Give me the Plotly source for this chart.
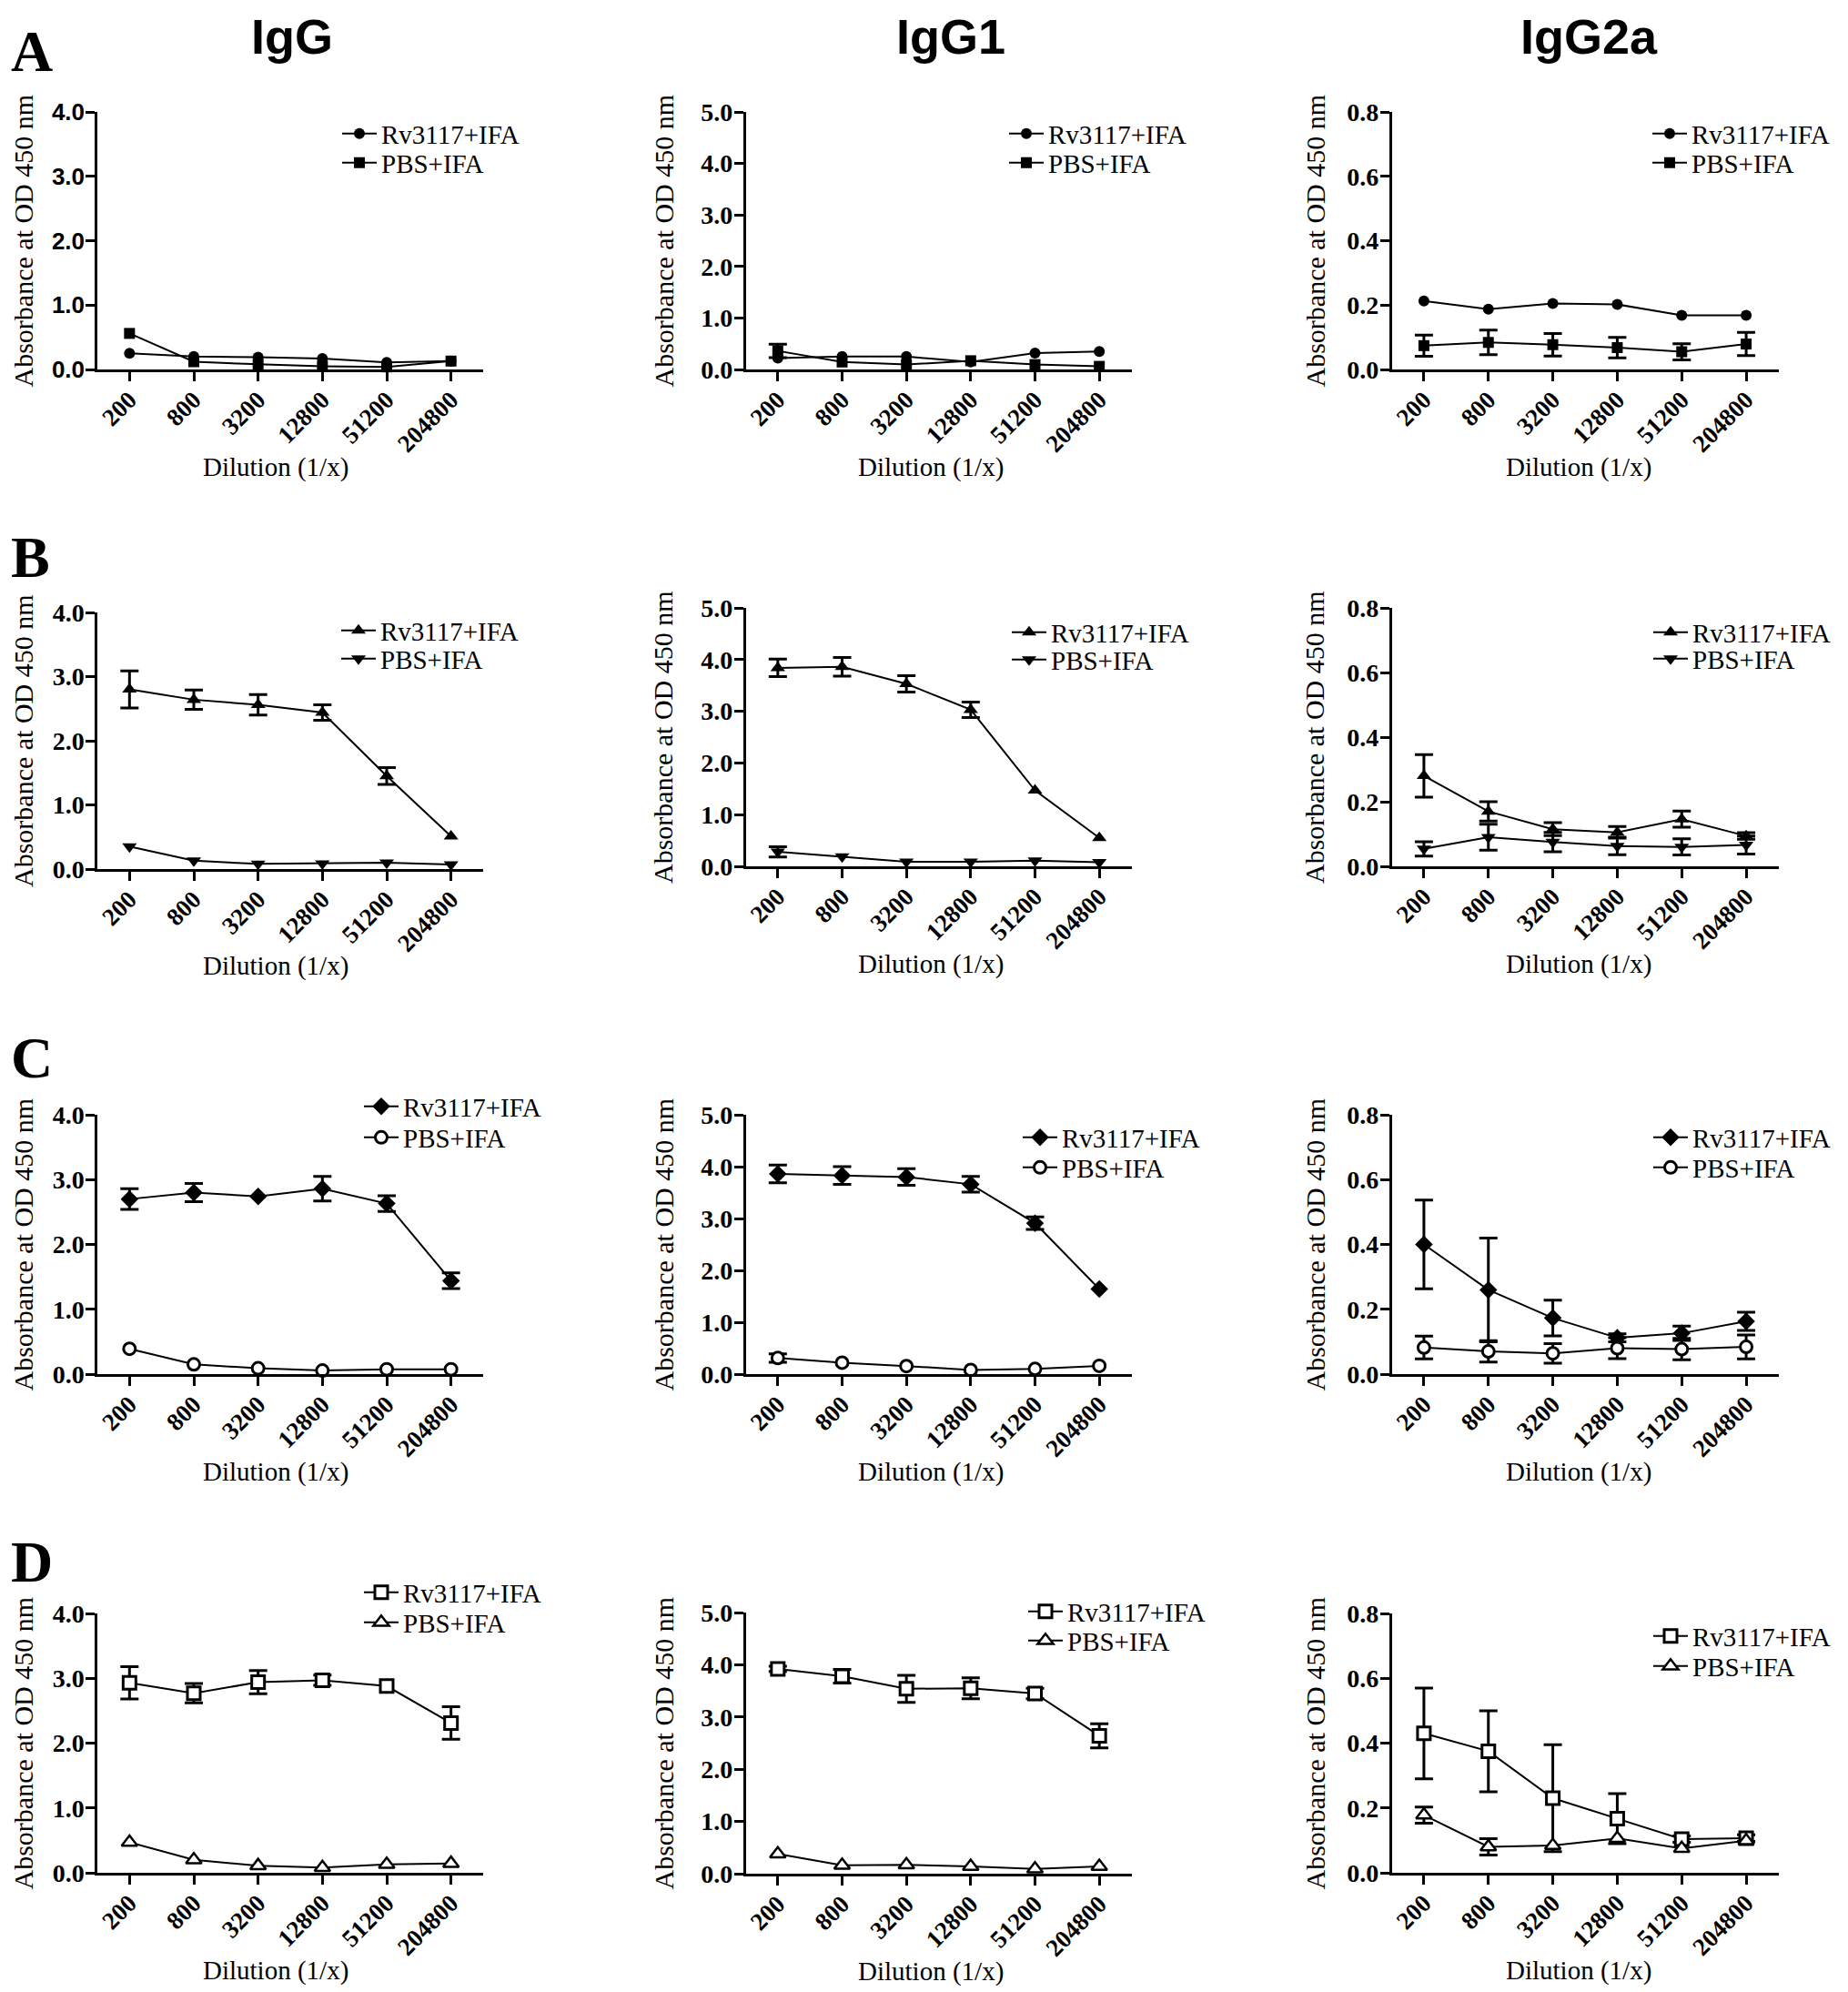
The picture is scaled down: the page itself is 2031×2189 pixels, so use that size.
import plotly.graph_objects as go

# ---------------- data ----------------
dilutions = ["200", "800", "3200", "12800", "51200", "204800"]
series_names = ["Rv3117+IFA", "PBS+IFA"]
isotypes = ["IgG", "IgG1", "IgG2a"]
panel_letters = ["A", "B", "C", "D"]
y_max = [4.0, 5.0, 0.8]
y_dtick = [1.0, 1.0, 0.2]

# Row A
A_igg_rv = [0.25, 0.20, 0.19, 0.17, 0.11, 0.13]
A_igg_rv_err = [0, 0, 0, 0, 0, 0]
A_igg_pbs = [0.56, 0.12, 0.08, 0.05, 0.04, 0.13]
A_igg_pbs_err = [0, 0, 0, 0, 0, 0]
A_igg1_rv = [0.22, 0.25, 0.25, 0.145, 0.32, 0.35]
A_igg1_rv_err = [0, 0, 0, 0, 0, 0]
A_igg1_pbs = [0.36, 0.145, 0.095, 0.17, 0.095, 0.06]
A_igg1_pbs_err = [0.13, 0, 0, 0, 0, 0]
A_igg2a_rv = [0.213, 0.187, 0.205, 0.202, 0.168, 0.168]
A_igg2a_rv_err = [0, 0, 0, 0, 0, 0]
A_igg2a_pbs = [0.074, 0.084, 0.077, 0.068, 0.055, 0.079]
A_igg2a_pbs_err = [0.033, 0.038, 0.035, 0.032, 0.025, 0.036]

# Row B
B_igg_rv = [2.80, 2.64, 2.56, 2.44, 1.45, 0.51]
B_igg_rv_err = [0.29, 0.15, 0.16, 0.12, 0.13, 0]
B_igg_pbs = [0.35, 0.13, 0.08, 0.085, 0.10, 0.07]
B_igg_pbs_err = [0, 0, 0, 0, 0, 0]
B_igg1_rv = [3.84, 3.86, 3.53, 3.03, 1.47, 0.55]
B_igg1_rv_err = [0.17, 0.18, 0.16, 0.15, 0, 0]
B_igg1_pbs = [0.28, 0.19, 0.09, 0.09, 0.11, 0.08]
B_igg1_pbs_err = [0.10, 0, 0, 0, 0, 0]
B_igg2a_rv = [0.28, 0.17, 0.115, 0.105, 0.146, 0.094]
B_igg2a_rv_err = [0.066, 0.03, 0.02, 0.018, 0.025, 0.01]
B_igg2a_pbs = [0.054, 0.09, 0.075, 0.063, 0.06, 0.066]
B_igg2a_pbs_err = [0.022, 0.04, 0.03, 0.027, 0.025, 0.028]

# Row C
C_igg_rv = [2.70, 2.80, 2.74, 2.86, 2.63, 1.44]
C_igg_rv_err = [0.16, 0.14, 0, 0.19, 0.12, 0.12]
C_igg_pbs = [0.39, 0.15, 0.09, 0.055, 0.075, 0.075]
C_igg_pbs_err = [0, 0, 0, 0, 0, 0]
C_igg1_rv = [3.86, 3.83, 3.80, 3.66, 2.91, 1.64]
C_igg1_rv_err = [0.17, 0.17, 0.16, 0.15, 0.12, 0]
C_igg1_pbs = [0.31, 0.22, 0.155, 0.08, 0.10, 0.16]
C_igg1_pbs_err = [0.08, 0, 0, 0, 0, 0]
C_igg2a_rv = [0.40, 0.26, 0.173, 0.112, 0.126, 0.163]
C_igg2a_rv_err = [0.137, 0.16, 0.055, 0.012, 0.022, 0.028]
C_igg2a_pbs = [0.082, 0.070, 0.064, 0.080, 0.077, 0.084]
C_igg2a_pbs_err = [0.035, 0.033, 0.03, 0.032, 0.033, 0.037]

# Row D
D_igg_rv = [2.93, 2.77, 2.94, 2.97, 2.88, 2.31]
D_igg_rv_err = [0.25, 0.15, 0.18, 0.08, 0, 0.25]
D_igg_pbs = [0.47, 0.20, 0.11, 0.08, 0.13, 0.145]
D_igg_pbs_err = [0, 0, 0, 0, 0, 0]
D_igg1_rv = [3.92, 3.78, 3.54, 3.55, 3.45, 2.64]
D_igg1_rv_err = [0.05, 0.13, 0.26, 0.20, 0.10, 0.23]
D_igg1_pbs = [0.38, 0.16, 0.17, 0.14, 0.09, 0.14]
D_igg1_pbs_err = [0, 0, 0, 0, 0, 0]
D_igg2a_rv = [0.43, 0.375, 0.23, 0.167, 0.104, 0.107]
D_igg2a_rv_err = [0.14, 0.125, 0.165, 0.077, 0.01, 0.01]
D_igg2a_pbs = [0.178, 0.08, 0.084, 0.106, 0.075, 0.099]
D_igg2a_pbs_err = [0.025, 0.025, 0, 0, 0, 0]

rows_data = [
    [(A_igg_rv, A_igg_rv_err, A_igg_pbs, A_igg_pbs_err),
     (A_igg1_rv, A_igg1_rv_err, A_igg1_pbs, A_igg1_pbs_err),
     (A_igg2a_rv, A_igg2a_rv_err, A_igg2a_pbs, A_igg2a_pbs_err)],
    [(B_igg_rv, B_igg_rv_err, B_igg_pbs, B_igg_pbs_err),
     (B_igg1_rv, B_igg1_rv_err, B_igg1_pbs, B_igg1_pbs_err),
     (B_igg2a_rv, B_igg2a_rv_err, B_igg2a_pbs, B_igg2a_pbs_err)],
    [(C_igg_rv, C_igg_rv_err, C_igg_pbs, C_igg_pbs_err),
     (C_igg1_rv, C_igg1_rv_err, C_igg1_pbs, C_igg1_pbs_err),
     (C_igg2a_rv, C_igg2a_rv_err, C_igg2a_pbs, C_igg2a_pbs_err)],
    [(D_igg_rv, D_igg_rv_err, D_igg_pbs, D_igg_pbs_err),
     (D_igg1_rv, D_igg1_rv_err, D_igg1_pbs, D_igg1_pbs_err),
     (D_igg2a_rv, D_igg2a_rv_err, D_igg2a_pbs, D_igg2a_pbs_err)],
]

# ---------------- styles / layout geometry (page px) ----------------
W, H = 2031, 2189
BODY = 8  # default page margin around the plot div
SERIF = "Liberation Serif"
SANS = "Liberation Sans"

# marker styles per row: (symbol, fill, size, linewidth) for Rv and PBS
row_markers = [
    [("circle", "black", 12, 0), ("square", "black", 12, 0)],
    [("triangle-up", "black", 14, 0), ("triangle-down", "black", 14, 0)],
    [("diamond", "black", 15, 0), ("circle", "white", 13, 3)],
    [("square", "white", 14, 3), ("triangle-up", "white", 15, 2.5)],
]

col_x = [(107, 531), (819.5, 1243.5), (1529.5, 1954.5)]
row_y = [
    [(123, 406), (123, 406), (123, 406)],
    [(673, 955), (668, 952), (668, 952)],
    [(1225, 1510), (1225, 1510), (1225, 1510)],
    [(1773, 2058), (1772, 2059), (1773, 2058)],
]
# legend: (line start x, row1 center y, row2 center y)
legend_pos = [
    [(377, 147, 179), (1110, 147, 179), (1817, 147, 179)],
    [(376, 693, 724), (1113, 695, 725), (1818, 695, 724)],
    [(401, 1216, 1250), (1125, 1250, 1283), (1818, 1250, 1283)],
    [(401, 1750, 1783), (1131, 1771, 1803), (1818, 1798, 1831)],
]
ytitle_x = [25, 729, 1445]
xtitle_x = [303, 1023, 1735]
title_x = [321, 1045, 1746]
letter_pos = [(35, 57), (33, 612), (35, 1162), (35, 1716)]


def px(x):
    return (x - BODY) / W


def py(y):
    return 1 - (y - BODY) / H


fig = go.Figure()
layout = dict(
    template="none",
    width=W, height=H,
    margin=dict(l=0, r=0, t=0, b=0, pad=0, autoexpand=False),
    paper_bgcolor="white", plot_bgcolor="white",
    showlegend=True,
)
annotations = []
leg_n = 0

for r in range(4):
    for c in range(3):
        idx = r * 3 + c + 1
        sfx = "" if idx == 1 else str(idx)
        xa, ya = "x" + sfx, "y" + sfx
        x0, x1 = col_x[c]
        yt, yb = row_y[r][c]
        sans_ticks = (r == 0 and c == 0)
        tickfont_y = dict(family=SANS if sans_ticks else SERIF,
                          size=26 if sans_ticks else 28,
                          color="black", weight="bold")
        layout["xaxis" + sfx] = dict(
            domain=[px(x0), px(x1)], anchor=ya, type="category",
            categoryorder="array", categoryarray=dilutions,
            range=[-0.5, 5.5], showline=True, linecolor="black", linewidth=2.5,
            ticks="outside", ticklen=10, tickwidth=2.5, tickcolor="black",
            tickangle=-45, showgrid=False, zeroline=False, fixedrange=True,
            automargin=False, ticklabelstandoff=-6,
            tickfont=dict(family=SERIF, size=27, color="black", weight="bold"),
        )
        layout["yaxis" + sfx] = dict(
            domain=[py(yb), py(yt)], anchor=xa,
            range=[0, y_max[c]], dtick=y_dtick[c], tick0=0, tickformat=".1f",
            showline=True, linecolor="black", linewidth=2.5,
            ticks="outside", ticklen=10, tickwidth=2.5, tickcolor="black",
            showgrid=False, zeroline=False, fixedrange=True,
            automargin=False, ticklabelstandoff=-4,
            tickfont=tickfont_y,
        )
        rv, rv_err, pbs, pbs_err = rows_data[r][c]
        lx, ly1, ly2 = legend_pos[r][c]
        for s, (vals, errs) in enumerate([(rv, rv_err), (pbs, pbs_err)]):
            sym, fill, size, lw = row_markers[r][s]
            # error bars (only where an error exists), drawn underneath
            ex = [d for d, e in zip(dilutions, errs) if e > 0]
            ey = [v for v, e in zip(vals, errs) if e > 0]
            ee = [e for e in errs if e > 0]
            if ee:
                fig.add_trace(go.Scatter(
                    x=ex, y=ey, xaxis=xa, yaxis=ya, mode="markers",
                    marker=dict(size=1, color="rgba(0,0,0,0)"),
                    error_y=dict(type="data", array=ee, visible=True,
                                 color="black", thickness=3, width=10),
                    showlegend=False, cliponaxis=False, hoverinfo="skip",
                ))
            leg_n += 1
            lname = "legend" if leg_n == 1 else "legend%d" % leg_n
            fig.add_trace(go.Scatter(
                x=dilutions, y=vals, xaxis=xa, yaxis=ya, mode="lines+markers",
                name=series_names[s], legend=lname,
                line=dict(color="black", width=2),
                marker=dict(symbol=sym, size=size, color=fill,
                            line=dict(color="black", width=lw)),
                cliponaxis=False,
            ))
            layout[lname] = dict(
                x=px(lx - 6), y=py(ly1 if s == 0 else ly2),
                xanchor="left", yanchor="middle",
                bgcolor="rgba(0,0,0,0)", borderwidth=0, itemwidth=38,
                font=dict(family=SERIF, size=29, color="black"),
                itemclick=False, itemdoubleclick=False,
            )
        # axis titles
        annotations.append(dict(
            text="Absorbance at OD 450 nm", xref="paper", yref="paper",
            x=px(ytitle_x[c]), y=py((yt + yb) / 2), textangle=-90,
            showarrow=False, xanchor="center", yanchor="middle",
            font=dict(family=SERIF, size=30, color="black"),
        ))
        annotations.append(dict(
            text="Dilution (1/x)", xref="paper", yref="paper",
            x=px(xtitle_x[c]), y=py(yb + 107),
            showarrow=False, xanchor="center", yanchor="middle",
            font=dict(family=SERIF, size=29, color="black"),
        ))

for c, name in enumerate(isotypes):
    annotations.append(dict(
        text=name, xref="paper", yref="paper", x=px(title_x[c]), y=1.0,
        showarrow=False, xanchor="center", yanchor="top",
        font=dict(family=SANS, size=54, color="black", weight="bold"),
    ))
for r, letter in enumerate(panel_letters):
    tx, ty = letter_pos[r]
    annotations.append(dict(
        text=letter, xref="paper", yref="paper", x=px(tx), y=py(ty),
        showarrow=False, xanchor="center", yanchor="middle",
        font=dict(family=SERIF, size=64, color="black", weight="bold"),
    ))

layout["annotations"] = annotations
fig.update_layout(**layout)
fig.write_html("out.html")
